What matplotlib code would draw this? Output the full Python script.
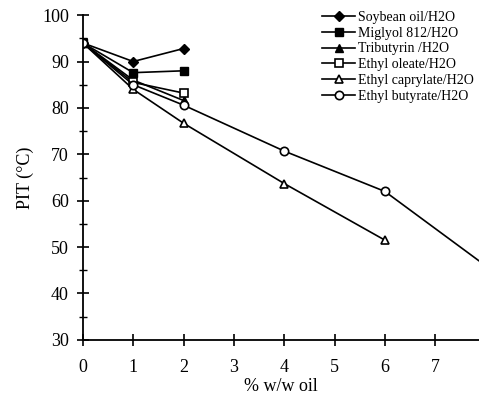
import numpy as np
import matplotlib
matplotlib.use("Agg")
import matplotlib.pyplot as plt
from matplotlib.ticker import MultipleLocator

plt.rcParams['font.family'] = ['Liberation Serif', 'DejaVu Serif']

# data
soy_x = [0, 1, 2]
soy_y = [94, 90, 92.8]
mig_x = [0, 1, 2]
mig_y = [94, 87.6, 88]
tri_x = [0, 1, 2]
tri_y = [94, 86, 81.6]
ole_x = [0, 1, 2]
ole_y = [94, 85.5, 83.2]
cap_x = [0, 1, 2, 4, 6]
cap_y = [94, 84, 76.7, 63.7, 51.5]
but_x = [0, 1, 2, 4, 6, 8]
but_y = [94, 85, 80.6, 70.7, 62, 46]

fig = plt.figure(figsize=(4.79, 3.98), dpi=100)
ax = fig.add_axes([0.173, 0.146, 0.827, 0.816])

kw = dict(color='black', lw=1.2, ms=6, clip_on=True)
ax.plot(soy_x, soy_y, marker='D', ms=5, mfc='black', label='Soybean oil/H2O', color='black', lw=1.2)
ax.plot(mig_x, mig_y, marker='s', mfc='black', label='Miglyol 812/H2O', **kw)
ax.plot(tri_x, tri_y, marker='^', mfc='black', label='Tributyrin /H2O', **kw)
ax.plot(ole_x, ole_y, marker='s', mfc='white', mew=1.2, label='Ethyl oleate/H2O', **kw)
ax.plot(cap_x, cap_y, marker='^', mfc='white', mew=1.2, label='Ethyl caprylate/H2O', **kw)
ax.plot(but_x, but_y, marker='o', mfc='white', mew=1.2, label='Ethyl butyrate/H2O', **kw)

ax.set_xlim(0, 7.87)
ax.set_ylim(30, 100)
ax.xaxis.set_major_locator(MultipleLocator(1))
ax.yaxis.set_major_locator(MultipleLocator(10))
ax.yaxis.set_minor_locator(MultipleLocator(5))
ax.spines['top'].set_visible(False)
ax.spines['right'].set_visible(False)
ax.spines['left'].set_linewidth(1.3)
ax.spines['bottom'].set_linewidth(1.3)
ax.tick_params(which='major', direction='inout', length=8, width=1.2, labelsize=13, pad=6)
ax.tick_params(axis='x', which='major', pad=10)
ax.tick_params(which='minor', direction='inout', length=6, width=1.0)

ax.set_xlabel('% w/w oil', fontsize=13, labelpad=1)
ax.set_ylabel('PIT (°C)', fontsize=13, labelpad=6)

ax.legend(loc='upper right', bbox_to_anchor=(1.0, 1.03), frameon=False, fontsize=10,
          handlelength=2.4, handletextpad=0.15, labelspacing=0.2, borderaxespad=0.0)

fig.savefig('out.png', dpi=100)
